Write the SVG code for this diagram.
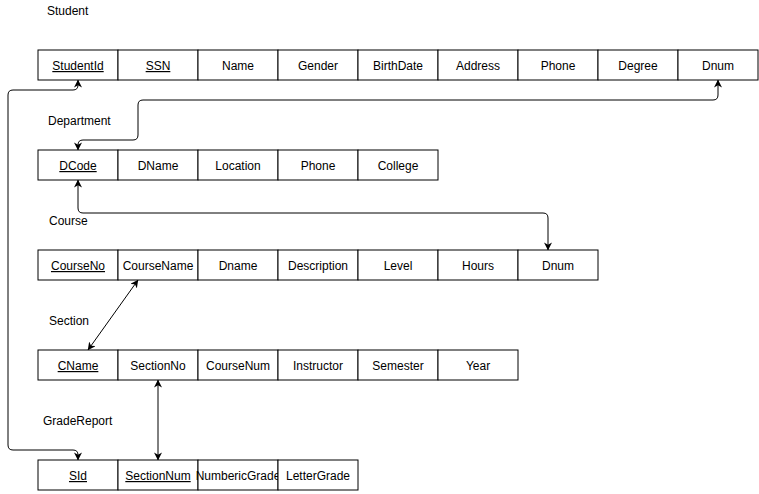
<svg xmlns="http://www.w3.org/2000/svg" width="759" height="494" viewBox="0 0 759 494">
<style>
  .c { fill: #fff; stroke: #000; stroke-width: 1; }
  .t { font-family: "Liberation Sans", Arial, sans-serif; font-size: 12px; fill: #000; text-anchor: middle; }
  .k { text-decoration: underline; }
  .lbl { font-family: "Liberation Sans", Arial, sans-serif; font-size: 12px; fill: #000; }
  .e { fill: none; stroke: #000; stroke-width: 1; }
</style>
<defs>
  <marker id="ah" viewBox="0 0 10 10" refX="9.5" refY="5" markerWidth="8" markerHeight="8" markerUnits="userSpaceOnUse" orient="auto-start-reverse">
    <path d="M0,0 L10,5 L0,10 L3,5 z" fill="#000"/>
  </marker>
</defs>
<rect width="759" height="494" fill="#fff"/>

<text class="lbl" x="47" y="15">Student</text>
<text class="lbl" x="48" y="125">Department</text>
<text class="lbl" x="49" y="225">Course</text>
<text class="lbl" x="49" y="325">Section</text>
<text class="lbl" x="43" y="425">GradeReport</text>

<g id="student">
  <rect class="c" x="38" y="50" width="80" height="30"/><text class="t k" x="78" y="70">StudentId</text>
  <rect class="c" x="118" y="50" width="80" height="30"/><text class="t k" x="158" y="70">SSN</text>
  <rect class="c" x="198" y="50" width="80" height="30"/><text class="t" x="238" y="70">Name</text>
  <rect class="c" x="278" y="50" width="80" height="30"/><text class="t" x="318" y="70">Gender</text>
  <rect class="c" x="358" y="50" width="80" height="30"/><text class="t" x="398" y="70">BirthDate</text>
  <rect class="c" x="438" y="50" width="80" height="30"/><text class="t" x="478" y="70">Address</text>
  <rect class="c" x="518" y="50" width="80" height="30"/><text class="t" x="558" y="70">Phone</text>
  <rect class="c" x="598" y="50" width="80" height="30"/><text class="t" x="638" y="70">Degree</text>
  <rect class="c" x="678" y="50" width="80" height="30"/><text class="t" x="718" y="70">Dnum</text>
</g>

<g id="department">
  <rect class="c" x="38" y="150" width="80" height="30"/><text class="t k" x="78" y="170">DCode</text>
  <rect class="c" x="118" y="150" width="80" height="30"/><text class="t" x="158" y="170">DName</text>
  <rect class="c" x="198" y="150" width="80" height="30"/><text class="t" x="238" y="170">Location</text>
  <rect class="c" x="278" y="150" width="80" height="30"/><text class="t" x="318" y="170">Phone</text>
  <rect class="c" x="358" y="150" width="80" height="30"/><text class="t" x="398" y="170">College</text>
</g>

<g id="course">
  <rect class="c" x="38" y="250" width="80" height="30"/><text class="t k" x="78" y="270">CourseNo</text>
  <rect class="c" x="118" y="250" width="80" height="30"/><text class="t" x="158" y="270">CourseName</text>
  <rect class="c" x="198" y="250" width="80" height="30"/><text class="t" x="238" y="270">Dname</text>
  <rect class="c" x="278" y="250" width="80" height="30"/><text class="t" x="318" y="270">Description</text>
  <rect class="c" x="358" y="250" width="80" height="30"/><text class="t" x="398" y="270">Level</text>
  <rect class="c" x="438" y="250" width="80" height="30"/><text class="t" x="478" y="270">Hours</text>
  <rect class="c" x="518" y="250" width="80" height="30"/><text class="t" x="558" y="270">Dnum</text>
</g>

<g id="section">
  <rect class="c" x="38" y="350" width="80" height="30"/><text class="t k" x="78" y="370">CName</text>
  <rect class="c" x="118" y="350" width="80" height="30"/><text class="t" x="158" y="370">SectionNo</text>
  <rect class="c" x="198" y="350" width="80" height="30"/><text class="t" x="238" y="370">CourseNum</text>
  <rect class="c" x="278" y="350" width="80" height="30"/><text class="t" x="318" y="370">Instructor</text>
  <rect class="c" x="358" y="350" width="80" height="30"/><text class="t" x="398" y="370">Semester</text>
  <rect class="c" x="438" y="350" width="80" height="30"/><text class="t" x="478" y="370">Year</text>
</g>

<g id="gradereport">
  <rect class="c" x="38" y="460" width="80" height="30"/><text class="t k" x="78" y="480">SId</text>
  <rect class="c" x="118" y="460" width="80" height="30"/><text class="t k" x="158" y="480">SectionNum</text>
  <rect class="c" x="198" y="460" width="80" height="30"/><text class="t" x="238" y="480">NumbericGrade</text>
  <rect class="c" x="278" y="460" width="80" height="30"/><text class="t" x="318" y="480">LetterGrade</text>
</g>

<g id="connectors">
  <path class="e" marker-start="url(#ah)" marker-end="url(#ah)" d="M78,80 L78,85 Q78,90 73,90 L13,90 Q8,90 8,95 L8,445 Q8,450 13,450 L73,450 Q78,450 78,455 L78,460"/>
  <path class="e" marker-start="url(#ah)" marker-end="url(#ah)" d="M718,80 L718,95 Q718,100 713,100 L143,100 Q138,100 138,105 L138,135 Q138,140 133,140 L83,140 Q78,140 78,145 L78,150"/>
  <path class="e" marker-start="url(#ah)" marker-end="url(#ah)" d="M78,180 L78,208 Q78,213 83,213 L543,213 Q548,213 548,218 L548,250"/>
  <path class="e" marker-start="url(#ah)" marker-end="url(#ah)" d="M138,280 L88,350"/>
  <path class="e" marker-start="url(#ah)" marker-end="url(#ah)" d="M158,380 L158,460"/>
</g>
</svg>
